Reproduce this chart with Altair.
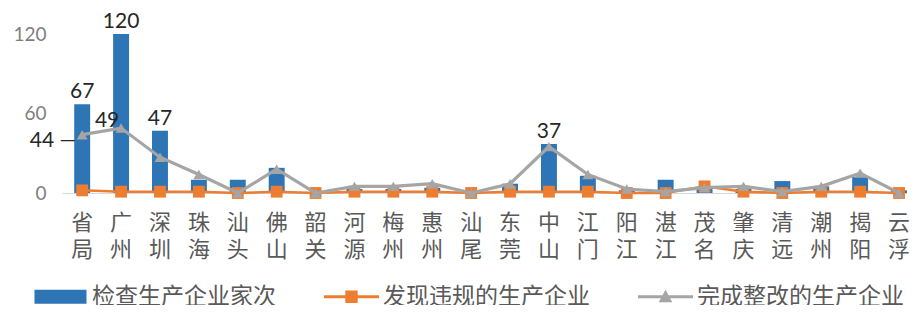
import altair as alt
import pandas as pd

categories = ["省局", "广州", "深圳", "珠海", "汕头", "佛山", "韶关", "河源", "梅州", "惠州", "汕尾",
              "东莞", "中山", "江门", "阳江", "湛江", "茂名", "肇庆", "清远", "潮州", "揭阳", "云浮"]
inspected = [67, 120, 47, 10, 10, 19, 0, 3, 3, 4, 0, 7, 37, 13, 2, 10, 4, 3, 9, 5, 12, 2]
violations = [2, 1, 1, 1, 0, 1, 0, 1, 1, 1, 0, 1, 1, 1, 0, 0, 5, 1, 0, 1, 1, 0]
rectified = [44, 49, 27, 14, 0, 18, 0, 5, 5, 7, 0, 7, 35, 14, 3, 1, 4, 5, 1, 5, 15, 0]
series_names = ["检查生产企业家次", "发现违规的生产企业", "完成整改的生产企业"]
bar_label_cats = ["省局", "广州", "深圳", "中山"]
y_ticks = [0, 60, 120]

colors = ["#2E75B6", "#ED7D31", "#A5A5A5"]
# legend glyphs: wide bar swatch, line + square, line + triangle
legend_paths = [
    "M-2.6,-0.7H2.6V0.7H-2.6Z",
    "M-2.75,-0.15H2.75V0.15H-2.75Z M-0.62,-0.62H0.62V0.62H-0.62Z",
    "M-2.75,-0.15H2.75V0.15H-2.75Z M0,-0.7L0.68,0.55H-0.68Z",
]

rows = []
for i, c in enumerate(categories):
    rows.append({"category": c, "series": series_names[0], "value": inspected[i]})
    rows.append({"category": c, "series": series_names[1], "value": violations[i]})
    rows.append({"category": c, "series": series_names[2], "value": rectified[i]})
df = pd.DataFrame(rows)

CJK = "Noto Sans CJK SC"
NUM = "Lato"

x = alt.X(
    "category:N", sort=categories,
    scale=alt.Scale(paddingInner=0.59, paddingOuter=0.157, align=1),
    axis=alt.Axis(title=None, labelExpr="split(datum.label, '')", labelAngle=0,
                  labelFontSize=22, labelLineHeight=27, labelColor="#595959",
                  labelFont=CJK, labelPadding=19, labelBaseline="top",
                  ticks=False, domainColor="#D9D9D9", domainWidth=1),
)
y = alt.Y(
    "value:Q",
    scale=alt.Scale(domain=[0, 120], nice=False),
    axis=alt.Axis(title=None, values=y_ticks, grid=False, domain=False, ticks=False,
                  labelFontSize=19, labelColor="#7F7F7F", labelFont=NUM, labelPadding=16),
)

base = alt.Chart(df).encode(x=x, y=y)

s0 = f"datum.series == '{series_names[0]}'"
s1 = f"datum.series == '{series_names[1]}'"
s2 = f"datum.series == '{series_names[2]}'"

bars = base.transform_filter(s0).mark_bar(color=colors[0])
orange_line = base.transform_filter(s1).mark_line(color=colors[1], strokeWidth=2.5)
orange_pts = base.transform_filter(s1).mark_point(shape="square", filled=True, size=140,
                                                   color=colors[1], opacity=1)
gray_line = base.transform_filter(s2).mark_line(color=colors[2], strokeWidth=3.2)
gray_pts = base.transform_filter(s2).mark_point(shape="triangle-up", filled=True, size=120,
                                                 color=colors[2], opacity=1)

bar_labels = base.transform_filter(s0).transform_filter(
    alt.FieldOneOfPredicate(field="category", oneOf=bar_label_cats)
).mark_text(baseline="alphabetic", dy=-6, fontSize=21, font=NUM, color="#262626").encode(
    text="value:Q")

lab44 = base.transform_filter(s2).transform_filter("datum.category == '省局'").transform_calculate(
    lbl="datum.value + ' —'"
).mark_text(align="right", baseline="middle", dx=-6, dy=6, fontSize=21, font=NUM,
            color="#262626").encode(text="lbl:N")

lab49 = base.transform_filter(s2).transform_filter("datum.category == '广州'").mark_text(
    align="center", baseline="middle", dx=-14, dy=-7, fontSize=21, font=NUM, color="#262626"
).encode(text="value:Q")

leg = alt.Legend(title=None, orient="none", legendX=-13, legendY=251, direction="horizontal",
                 columns=3, columnPadding=48, symbolSize=400, symbolStrokeWidth=0,
                 symbolOpacity=1, labelFontSize=23, labelFont=CJK, labelColor="#595959",
                 labelOffset=20, labelLimit=400, padding=0)

legend_layer = base.transform_filter("false").mark_point(filled=True, opacity=1).encode(
    color=alt.Color("series:N", scale=alt.Scale(domain=series_names, range=colors), legend=leg),
    shape=alt.Shape("series:N", scale=alt.Scale(domain=series_names, range=legend_paths), legend=leg),
)

chart = alt.layer(
    bars, orange_line, orange_pts, gray_line, gray_pts, bar_labels, lab44, lab49, legend_layer
).properties(
    width=845, height=159,
    background="white",
    autosize=alt.AutoSizeParams(type="none"),
    padding={"left": 54, "top": 26, "right": 5, "bottom": 112},
).configure_view(stroke=None)

chart.save("out.html", embed_options={"renderer": "svg", "actions": False})
